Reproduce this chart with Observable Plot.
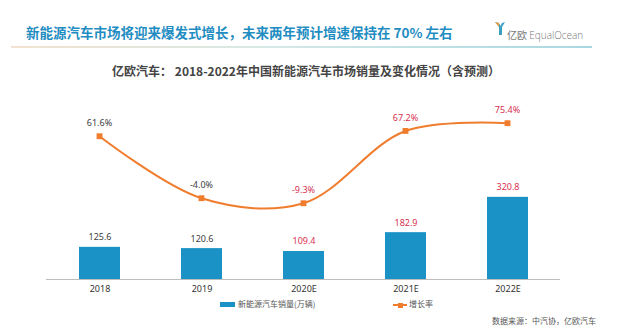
<!DOCTYPE html>
<html>
<head>
<meta charset="utf-8">
<script src="https://cdn.jsdelivr.net/npm/d3@7"></script>
<script src="https://cdn.jsdelivr.net/npm/@observablehq/plot@0.6"></script>
<style>
  html, body { margin: 0; padding: 0; background: #fff; }
  #wrap { position: relative; width: 626px; height: 335px; background: #fff; font-family: "Noto Sans CJK SC", "Noto Sans", sans-serif; overflow: hidden; }
  .abs { position: absolute; white-space: nowrap; }
  #wrap svg { position: absolute; left: 0; top: 80px; overflow: visible; }
</style>
</head>
<body>
<div id="wrap">
  <div class="abs" id="title" style="left:26px;top:23px;font-size:13.5px;line-height:18px;font-weight:700;color:#1f8dc2;">新能源汽车市场将迎来爆发式增长，未来两年预计增速保持在 70% 左右</div>
  <div class="abs" style="left:11px;top:46px;width:581px;height:2px;background:linear-gradient(to right,#f2e2cf,#d6e9e6 45%,#a9d8e2);"></div>
  <svg width="10" height="14" style="position:absolute;left:495px;top:22px;overflow:visible">
    <path d="M0,0 L4,5 L4,13 L7,13 L7,5 L10,0 L7,1 L5.5,4 L4,1 Z" fill="#3a9fc0"/>
    <path d="M0,0 L4,5 L4,1 Z" fill="#f0a040"/>
  </svg>
  <div class="abs" style="left:507px;top:28px;font-size:10px;line-height:14px;color:#777;">亿欧 <span style="font-family:'Open Sans',sans-serif;font-weight:300;">EqualOcean</span></div>
  <div class="abs" style="left:0;width:612px;top:62px;text-align:center;font-size:12px;line-height:18px;font-weight:700;color:#444;">亿欧汽车： 2018-2022年中国新能源汽车市场销量及变化情况（含预测）</div>
  <div id="chart"></div>
  <div class="abs" style="left:220px;top:302px;width:15px;height:5px;background:#1b92c5;"></div>
  <div class="abs" style="left:238px;top:298px;font-size:8px;line-height:12px;color:#555;">新能源汽车销量(万辆)</div>
  <div class="abs" style="left:393px;top:304px;width:14px;height:2px;background:#f07d2e;"></div>
  <div class="abs" style="left:397.5px;top:302.5px;width:5px;height:5px;background:#f07d2e;"></div>
  <div class="abs" style="left:409px;top:298px;font-size:8px;line-height:12px;color:#555;">增长率</div>
  <div class="abs" style="left:492px;top:315px;font-size:8px;line-height:12px;color:#555;">数据来源：中汽协，亿欧汽车</div>
</div>
<script>
const years = ["2018", "2019", "2020E", "2021E", "2022E"];
const sales = [125.6, 120.6, 109.4, 182.9, 320.8];
const growth = [61.6, -4.0, -9.3, 67.2, 75.4];

const data = years.map((y, i) => ({year: y, sales: sales[i], growth: growth[i]}));
const isForecast = d => d.year.endsWith("E");
const red = "#d8304f", dark = "#404040";
const blue = "#1b92c5", orange = "#f07d2e";

const common = {
  width: 626, height: 215,
  marginLeft: 46, marginRight: 66, marginTop: 10, marginBottom: 16,
  style: {background: "transparent", fontFamily: "'Noto Sans', 'Noto Sans CJK SC', sans-serif", fontSize: "9px", color: "#333", overflow: "visible"}
};
const xScale = {domain: years, paddingInner: 0.6, paddingOuter: 0.3};

const bars = Plot.plot({
  ...common,
  x: {...xScale, label: null, tickSize: 0, tickPadding: 6},
  y: {domain: [0, 738], axis: null},
  marks: [
    Plot.barY(data, {x: "year", y: "sales", fill: blue}),
    Plot.ruleY([0], {stroke: "#bdbdbd", strokeWidth: 1}),
    Plot.text(data, {x: "year", y: "sales", text: d => d.sales.toFixed(1), dy: -10, fontSize: 9, fill: d => isForecast(d) ? red : dark})
  ]
});

const line = Plot.plot({
  ...common,
  x: {...xScale, axis: null},
  y: {domain: [-90, 110], axis: null},
  marks: [
    Plot.line(data, {x: "year", y: "growth", stroke: orange, strokeWidth: 2, curve: "catmull-rom"}),
    Plot.dot(data, {x: "year", y: "growth", symbol: "square", r: 3.3, fill: orange, stroke: "none"}),
    Plot.text(data, {x: "year", y: "growth", text: d => d.growth.toFixed(1) + "%", dy: -13, fontSize: 9, fill: d => isForecast(d) ? red : dark})
  ]
});

const chart = document.getElementById("chart");
chart.appendChild(bars);
chart.appendChild(line);
</script>
</body>
</html>
